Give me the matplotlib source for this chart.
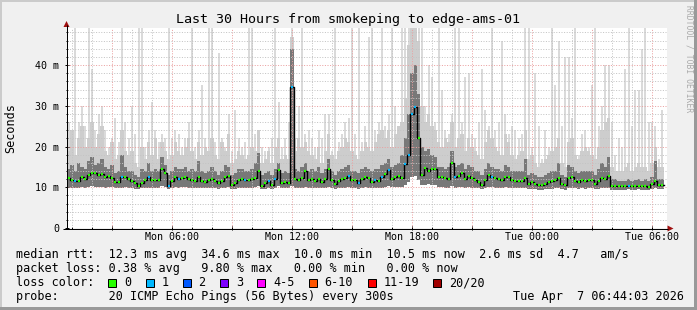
import numpy as np
import matplotlib
matplotlib.use("Agg")
import matplotlib.pyplot as plt
from matplotlib.patches import Rectangle, Polygon
from datetime import datetime, timedelta

# ---------------- data ----------------
START = datetime(2026, 4, 6, 0, 44, 3)
SPAN_HOURS = 30
STEP_MIN = 10

median_ms = [
    12.3, 11.7, 11.5, 11.6, 12.6, 12.0, 13.1, 13.4, 13.5, 13.0,
    13.2, 12.4, 12.7, 12.3, 11.4, 11.3, 12.4, 12.6, 12.0, 11.6,
    11.0, 10.4, 11.0, 11.8, 12.4, 11.8, 11.9, 11.9, 14.5, 13.5,
    10.4, 11.6, 12.6, 12.0, 12.3, 12.4, 12.0, 11.8, 11.6, 12.4,
    11.6, 11.2, 11.8, 12.0, 11.6, 11.0, 11.6, 12.4, 12.8, 10.6,
    11.0, 11.8, 12.0, 11.8, 11.8, 12.0, 12.3, 14.1, 10.4, 11.0,
    11.6, 10.6, 12.0, 14.3, 11.0, 11.3, 11.0, 34.6, 12.0, 11.8,
    12.3, 14.0, 11.8, 12.0, 11.6, 12.0, 11.2, 12.0, 14.5, 11.8,
    10.8, 11.5, 12.0, 12.3, 12.8, 11.7, 11.7, 11.0, 12.0, 12.5,
    12.3, 11.4, 11.7, 11.6, 12.4, 13.2, 14.2, 12.0, 12.4, 12.8,
    12.3, 15.7, 17.8, 28.0, 29.8, 22.0, 13.0, 14.8, 14.1, 14.6,
    14.5, 12.4, 12.5, 12.3, 12.0, 16.0, 12.4, 12.7, 13.5, 12.0,
    12.8, 12.2, 11.7, 11.3, 10.6, 11.8, 13.1, 12.6, 12.2, 12.0,
    11.7, 12.6, 12.4, 11.7, 11.5, 11.5, 11.5, 12.3, 10.9, 11.2,
    10.9, 10.6, 10.6, 10.9, 11.4, 11.5, 11.7, 12.3, 10.9, 10.6,
    12.3, 12.6, 11.6, 11.2, 11.8, 11.6, 11.8, 11.8, 10.9, 11.6,
    12.3, 12.0, 12.8, 10.2, 10.4, 10.2, 10.2, 10.2, 10.4, 10.2,
    10.4, 10.4, 10.2, 10.4, 10.0, 10.8, 11.6, 10.6, 10.5,
]

loss_pings = [
    0, 0, 1, 0, 0, 0, 0, 0, 0, 0,
    0, 0, 0, 0, 0, 0, 1, 0, 0, 0,
    0, 0, 0, 0, 1, 0, 0, 0, 0, 0,
    1, 0, 0, 1, 0, 0, 0, 0, 0, 0,
    0, 0, 0, 0, 0, 0, 0, 0, 0, 0,
    0, 0, 0, 1, 0, 0, 0, 0, 0, 0,
    1, 0, 1, 0, 0, 0, 0, 1, 0, 0,
    0, 0, 0, 0, 0, 0, 0, 0, 0, 0,
    0, 0, 0, 0, 1, 0, 0, 1, 0, 0,
    0, 0, 1, 0, 1, 0, 1, 0, 0, 0,
    0, 1, 1, 1, 1, 0, 0, 0, 0, 0,
    0, 0, 0, 0, 0, 0, 1, 0, 0, 0,
    0, 0, 0, 0, 0, 0, 0, 1, 0, 0,
    0, 0, 0, 0, 0, 0, 0, 0, 0, 0,
    0, 0, 0, 0, 0, 0, 0, 0, 0, 0,
    0, 0, 0, 0, 0, 0, 0, 0, 0, 0,
    0, 0, 0, 0, 0, 0, 0, 0, 1, 0,
    0, 0, 0, 0, 0, 0, 0, 0, 0,
]

smoke_min_ms = [
    10.0, 9.9, 9.8, 9.9, 10.0, 9.8, 10.1, 10.2, 10.0, 10.1,
    10.0, 9.9, 10.0, 10.1, 9.8, 9.7, 9.9, 10.0, 9.9, 9.8,
    9.6, 9.5, 9.7, 9.8, 9.9, 9.8, 9.9, 9.8, 10.2, 10.0,
    9.6, 9.8, 10.0, 9.9, 10.0, 10.0, 9.9, 9.8, 9.8, 9.9,
    9.8, 9.7, 9.8, 9.9, 9.7, 9.6, 9.8, 9.9, 10.0, 9.5,
    9.6, 9.8, 9.9, 9.8, 9.8, 9.9, 10.0, 10.2, 9.5, 9.6,
    9.8, 9.5, 9.9, 10.2, 9.7, 9.8, 9.7, 10.3, 9.9, 9.8,
    9.9, 10.0, 9.8, 9.9, 9.8, 9.9, 9.7, 9.9, 10.1, 9.8,
    9.6, 9.7, 9.9, 9.9, 10.0, 9.8, 9.8, 9.6, 9.9, 10.0,
    9.9, 9.7, 9.8, 9.8, 9.9, 10.1, 10.2, 10.0, 10.0, 10.1,
    10.0, 10.6, 11.2, 12.4, 12.8, 11.8, 10.6, 10.5, 10.8, 10.6,
    10.5, 10.0, 10.0, 9.9, 9.9, 10.2, 9.9, 10.0, 10.1, 9.9,
    10.0, 9.9, 9.8, 9.7, 9.5, 9.8, 10.1, 10.0, 9.9, 9.9,
    9.8, 10.0, 9.9, 9.8, 9.7, 9.7, 9.7, 9.9, 9.5, 9.6,
    9.5, 9.4, 9.4, 9.5, 9.6, 9.6, 9.7, 9.8, 9.5, 9.4,
    9.8, 9.9, 9.7, 9.6, 9.7, 9.6, 9.7, 9.7, 9.5, 9.6,
    9.8, 9.7, 9.9, 9.4, 9.4, 9.3, 9.4, 9.4, 9.5, 9.4,
    9.4, 9.5, 9.4, 9.4, 9.3, 9.6, 9.7, 9.5, 9.5,
]

smoke_q3_ms = [
    14.5, 15.5, 14.0, 16.0, 15.0, 14.5, 16.5, 17.5, 15.5, 16.0,
    17.0, 15.0, 14.5, 15.5, 13.5, 14.0, 18.0, 15.0, 14.0, 14.0,
    13.0, 12.5, 14.5, 14.0, 16.0, 14.0, 14.5, 14.0, 17.5, 15.5,
    13.0, 14.0, 15.0, 14.5, 14.5, 15.0, 14.0, 14.5, 14.0, 16.5,
    14.0, 13.5, 14.0, 15.0, 14.0, 13.0, 14.0, 15.5, 15.0, 13.0,
    13.5, 14.5, 14.5, 14.0, 14.0, 14.5, 16.0, 18.5, 13.0, 13.5,
    14.0, 13.0, 14.5, 16.0, 13.5, 14.0, 13.5, 44.0, 14.5, 14.0,
    15.0, 16.0, 14.0, 14.5, 14.0, 15.0, 13.5, 14.5, 17.0, 14.0,
    13.0, 14.0, 14.5, 15.0, 15.5, 14.0, 14.0, 13.5, 14.5, 15.0,
    14.5, 14.0, 14.5, 14.5, 15.5, 16.0, 17.0, 15.0, 15.5, 16.0,
    18.0, 22.0, 28.0, 38.0, 40.0, 33.0, 20.0, 19.0, 19.5, 18.0,
    17.5, 15.0, 15.0, 14.5, 15.0, 19.0, 15.0, 15.5, 16.0, 14.5,
    15.5, 15.0, 14.0, 14.0, 13.0, 14.5, 16.0, 15.0, 14.5, 14.5,
    14.0, 15.5, 15.0, 14.0, 14.0, 14.0, 14.0, 17.0, 13.0, 13.5,
    13.0, 12.5, 12.5, 13.0, 13.5, 14.0, 14.0, 16.0, 13.0, 12.5,
    15.5, 15.0, 14.0, 13.5, 14.0, 14.0, 14.0, 14.0, 13.0, 14.5,
    16.0, 15.0, 17.5, 12.0, 12.0, 11.5, 11.5, 11.5, 12.0, 11.5,
    11.8, 12.0, 11.5, 12.0, 11.5, 12.5, 16.5, 12.0, 12.0,
]

smoke_p90_ms = [
    19, 24, 18, 22, 25, 20, 22, 26, 20, 23,
    25, 19, 18, 21, 17, 18, 24, 19, 18, 19,
    16, 15, 20, 17, 21, 18, 22, 17, 21, 19,
    17, 18, 21, 19, 18, 20, 22, 19, 17, 21,
    18, 20, 19, 22, 18, 17, 21, 19, 23, 16,
    17, 19, 18, 17, 18, 20, 19, 24, 16, 17,
    19, 16, 20, 22, 17, 18, 17, 47, 19, 22,
    20, 21, 19, 18, 17, 20, 16, 19, 23, 18,
    17, 19, 20, 22, 21, 19, 18, 17, 19, 21,
    20, 19, 21, 23, 24, 22, 24, 20, 23, 25,
    26, 32, 45, 49, 49, 46, 30, 26, 28, 25,
    24, 21, 20, 22, 21, 26, 20, 22, 23, 19,
    22, 20, 19, 18, 17, 21, 24, 22, 20, 19,
    18, 23, 21, 18, 17, 18, 19, 24, 17, 18,
    16, 15, 16, 17, 18, 19, 20, 22, 16, 15,
    21, 22, 18, 17, 19, 20, 19, 18, 17, 20,
    24, 26, 27, 15, 14, 14, 14, 15, 16, 14,
    15, 16, 15, 15, 14, 16, 20, 15, 15,
]

smoke_max_ms = [
    26, 22, 49, 26, 30, 25, 49, 39, 24, 28,
    30, 24, 20, 22, 27, 21, 49, 26, 22, 30,
    23, 49, 49, 20, 24, 31, 24, 21, 23, 22,
    49, 22, 24, 23, 20, 22, 26, 49, 20, 24,
    35, 22, 49, 49, 21, 43, 22, 20, 28, 19,
    29, 22, 20, 21, 49, 49, 23, 24, 20, 19,
    20, 22, 49, 31, 20, 22, 26, 49, 22, 30,
    49, 23, 24, 22, 20, 24, 22, 28, 28, 19,
    49, 21, 23, 26, 27, 49, 23, 49, 21, 25,
    47, 49, 24, 26, 49, 25, 28, 49, 30, 24,
    49, 49, 49, 49, 49, 49, 49, 30, 40, 37,
    26, 49, 34, 24, 23, 28, 49, 49, 26, 37,
    38, 23, 22, 26, 39, 29, 25, 49, 24, 26,
    46, 28, 23, 25, 24, 22, 23, 49, 49, 20,
    38, 25, 17, 24, 20, 49, 35, 46, 25, 42,
    42, 27, 49, 18, 23, 24, 20, 35, 49, 25,
    30, 40, 40, 26, 18, 22, 20, 39, 49, 25,
    34, 34, 44, 49, 26, 26, 25, 17, 29,
]

loss_bucket_labels = ["0", "1", "2", "3", "4-5", "6-10", "11-19", "20/20"]
loss_bucket_upper = [0, 1, 2, 3, 5, 10, 19, 20]
loss_bucket_colors = ["#26ff00", "#00b8ff", "#0059ff", "#7e00ff",
                      "#ff00ff", "#ff5500", "#ff0000", "#a10000"]

title = "Last 30 Hours from smokeping to edge-ams-01"
y_label = "Seconds"
y_ticks = [0, 10, 20, 30, 40]
y_tick_labels = ["0", "10 m", "20 m", "30 m", "40 m"]
stat_lines = [
    "median rtt:  12.3 ms avg  34.6 ms max  10.0 ms min  10.5 ms now  2.6 ms sd  4.7   am/s",
    "packet loss: 0.38 % avg   9.80 % max   0.00 % min   0.00 % now",
]
loss_prefix = "loss color:"
probe_text = "probe:       20 ICMP Echo Pings (56 Bytes) every 300s"
stamp_text = "Tue Apr  7 06:44:03 2026"
watermark = "RRDTOOL / TOBI OETIKER"

# ---------------- drawing ----------------
W, H = 697, 310
PX = 0.72  # points per pixel at 100 dpi
MONO = "DejaVu Sans Mono"
plt.rcParams["font.family"] = [MONO, "DejaVu Sans"]

fig = plt.figure(figsize=(W / 100, H / 100), dpi=100, facecolor="#f0f0f0")
ax = fig.add_axes([67 / W, (H - 228) / H, 600 / W, 200 / H])
ax.set_facecolor("white")
ax.set_xlim(0, SPAN_HOURS)
ax.set_ylim(0, 49.1)
for s in ax.spines.values():
    s.set_visible(False)

med = np.asarray(median_ms, float)
n = len(med)
step_h = STEP_MIN / 60.0
xs = np.arange(n) * step_h
xe = np.arange(n + 1) * step_h


def ext(a):
    a = np.asarray(a, float)
    return np.append(a, a[-1])


smin = np.asarray(smoke_min_ms, float)
# outermost smoke (single slow pings) as thin spikes
ax.bar(xs + step_h / 2, np.asarray(smoke_max_ms, float) - smin, bottom=smin,
       width=step_h * 0.6, color="#dadada", lw=0, zorder=1)
ax.fill_between(xe, ext(smin), ext(smoke_p90_ms), step="post",
                color="#cdcdcd", lw=0, zorder=1.1)
ax.fill_between(xe, ext(smin), ext(smoke_q3_ms), step="post",
                color="#787878", lw=0, zorder=1.2)

# grid (drawn over the smoke, like rrdtool)
first_hour = ((START.replace(minute=0, second=0) + timedelta(hours=1)) - START).total_seconds() / 3600
hours = first_hour + np.arange(0, SPAN_HOURS + 1)
hours = hours[hours < SPAN_HOURS]
clock = [(START + timedelta(hours=float(h))).hour for h in hours]
dots = (0, (1, 1.6))
MAJ = "#eaa0a0"
MIN = "#c4c4c4"
for h, c in zip(hours, clock):
    ax.axvline(h, color=MAJ if c % 3 == 0 else MIN, lw=PX, ls=dots, zorder=2)
for v in np.arange(2, 49.1, 2):
    ax.axhline(v, color=MAJ if v % 10 == 0 else MIN, lw=PX, ls=dots, zorder=2)

# median line coloured by loss
ax.step(xe, ext(med), where="post", color="black", lw=1.0, zorder=3)
cols = []
for L in loss_pings:
    b = next(i for i, u in enumerate(loss_bucket_upper) if L <= u)
    cols.append(loss_bucket_colors[b])
ax.hlines(med, xe[:-1] + 0.03, xe[1:] - 0.03, colors=cols, lw=1.6, zorder=4)

# ticks
major_h = [h for h, c in zip(hours, clock) if c % 3 == 0]
major_lab = [(START + timedelta(hours=float(h))).strftime("%a %H:%M")
             if (START + timedelta(hours=float(h))).hour % 6 == 0 else ""
             for h in major_h]
ax.set_xticks(major_h)
ax.set_xticklabels(major_lab)
ax.set_xticks(hours, minor=True)
ax.set_yticks(y_ticks)
ax.set_yticklabels(y_tick_labels)
ax.set_yticks(np.arange(2, 49, 2), minor=True)
ax.tick_params(axis="x", which="major", direction="inout", length=4 * PX,
               width=PX, color="black", pad=1.5 * PX, labelsize=7.2)
ax.tick_params(axis="x", which="minor", direction="inout", length=2 * PX,
               width=PX, color="black")
ax.tick_params(axis="y", which="major", direction="inout", length=4 * PX,
               width=PX, color="black", pad=4.0, labelsize=7.2)
ax.tick_params(axis="y", which="minor", direction="inout", length=2 * PX,
               width=PX, color="black")

# ---------------- overlay in pixel coordinates ----------------
ov = fig.add_axes([0, 0, 1, 1], zorder=10)
ov.set_xlim(0, W)
ov.set_ylim(H, 0)
ov.axis("off")
ov.patch.set_alpha(0)

# 3d-ish border
ov.add_patch(Rectangle((0, 0), W, 2, color="#cbcbcb", lw=0))
ov.add_patch(Rectangle((0, 0), 2, H, color="#cbcbcb", lw=0))
ov.add_patch(Rectangle((0, H - 3), W, 3, color="#999999", lw=0))
ov.add_patch(Rectangle((W - 3, 0), 3, H, color="#999999", lw=0))

# axes lines + arrows
ov.plot([66.5, 66.5], [228.5, 25], color="black", lw=PX, solid_capstyle="butt")
ov.plot([63, 668], [228.5, 228.5], color="black", lw=PX, solid_capstyle="butt")
ov.add_patch(Polygon([(63.5, 27), (69.5, 27), (66.5, 21)], closed=True, color="#a01010", lw=0))
ov.add_patch(Polygon([(667.5, 225.5), (667.5, 231.5), (673.5, 228.5)], closed=True, color="#a01010", lw=0))

# texts
ov.text(348, 23.5, title, ha="center", va="baseline", fontsize=9.6, family=MONO)
ov.text(10.5, 128, y_label, rotation=90, ha="center", va="center", fontsize=8.5, family=MONO)
ov.text(688.5, 5, watermark, rotation=270, ha="center", va="top", fontsize=5.8,
        color="#aaaaaa", family=MONO)

LFS = 8.5
CW = 7.1
ov.text(16, 258, stat_lines[0], ha="left", va="baseline", fontsize=LFS, family=MONO)
ov.text(16, 272, stat_lines[1], ha="left", va="baseline", fontsize=LFS, family=MONO)
ov.text(16, 286, loss_prefix, ha="left", va="baseline", fontsize=LFS, family=MONO)
bx = 108.3
for lab, col in zip(loss_bucket_labels, loss_bucket_colors):
    ov.add_patch(Rectangle((bx, 278.5), 8, 8, facecolor=col, edgecolor="black", lw=PX))
    tx = bx + 15.7
    ov.text(tx, 286, lab, ha="left", va="baseline", fontsize=LFS, family=MONO)
    bx = tx + CW * len(lab) + 14.5
ov.text(16, 300, probe_text, ha="left", va="baseline", fontsize=LFS, family=MONO)
ov.text(513, 300, stamp_text, ha="left", va="baseline", fontsize=LFS, family=MONO)

fig.savefig("out.png", dpi=100, facecolor=fig.get_facecolor())
